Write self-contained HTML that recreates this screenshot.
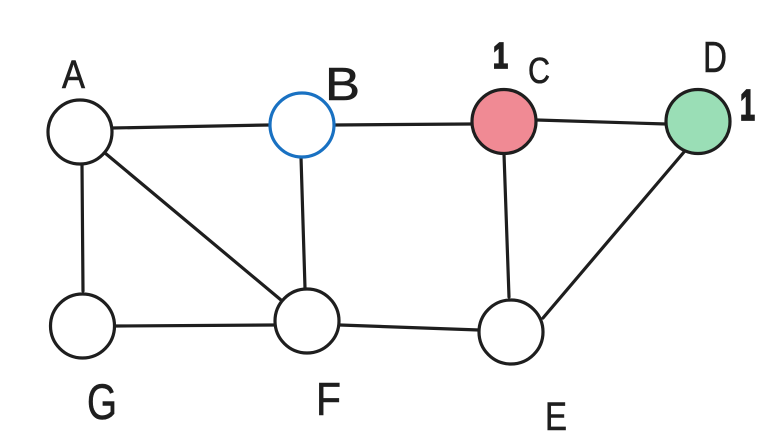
<!DOCTYPE html>
<html>
<head>
<meta charset="utf-8">
<style>
  html,body{margin:0;padding:0;background:#fff;}
  svg{display:block;}
  text{font-family:"Liberation Sans",sans-serif;fill:#1e1e1e;}
</style>
</head>
<body>
<svg width="775" height="443" viewBox="0 0 775 443" xmlns="http://www.w3.org/2000/svg">
  <rect width="775" height="443" fill="#fff"/>
  <g stroke="#1e1e1e" stroke-width="3.2" stroke-linecap="round" fill="none">
    <line x1="112" y1="128" x2="269" y2="125"/>
    <line x1="334" y1="125" x2="471" y2="124"/>
    <line x1="537" y1="120" x2="666" y2="124"/>
    <line x1="82" y1="165" x2="83" y2="291"/>
    <line x1="105" y1="153" x2="281" y2="300"/>
    <line x1="301" y1="157" x2="305" y2="288"/>
    <line x1="504" y1="154" x2="509" y2="297"/>
    <line x1="684" y1="152" x2="543" y2="318"/>
    <line x1="116" y1="326" x2="274" y2="325"/>
    <line x1="340" y1="325" x2="479" y2="330"/>
  </g>
  <g stroke-width="3.2">
    <circle cx="80" cy="132" r="32" fill="#fff" stroke="#1e1e1e"/>
    <circle cx="302" cy="125" r="32" fill="#fff" stroke="#1971c2"/>
    <circle cx="504" cy="121.5" r="32" fill="#f08a94" stroke="#1e1e1e"/>
    <circle cx="698" cy="121.5" r="32" fill="#9adeb6" stroke="#1e1e1e"/>
    <circle cx="82.5" cy="326" r="32" fill="#fff" stroke="#1e1e1e"/>
    <circle cx="307" cy="321" r="32" fill="#fff" stroke="#1e1e1e"/>
    <circle cx="511" cy="332" r="32" fill="#fff" stroke="#1e1e1e"/>
  </g>
  <g stroke="#1e1e1e" stroke-width="0.6">
    <text x="62" y="88" font-size="40" textLength="23" lengthAdjust="spacingAndGlyphs">A</text>
    <text x="325" y="100" font-size="46" textLength="35" lengthAdjust="spacingAndGlyphs">B</text>
    <text x="528" y="83" font-size="36" textLength="22" lengthAdjust="spacingAndGlyphs">C</text>
    <text x="703" y="72" font-size="44" textLength="24" lengthAdjust="spacingAndGlyphs">D</text>
    <text x="87" y="419" font-size="50" textLength="30" lengthAdjust="spacingAndGlyphs">G</text>
    <text x="316" y="415" font-size="46" textLength="25" lengthAdjust="spacingAndGlyphs">F</text>
    <text x="545" y="430" font-size="40" textLength="22" lengthAdjust="spacingAndGlyphs">E</text>
  </g>
  <g font-weight="bold" stroke="#1e1e1e" stroke-width="1.8">
    <text x="493" y="68" font-size="36" textLength="15" lengthAdjust="spacingAndGlyphs">1</text>
    <text x="740" y="120" font-size="44" textLength="15" lengthAdjust="spacingAndGlyphs">1</text>
  </g>
</svg>
</body>
</html>
